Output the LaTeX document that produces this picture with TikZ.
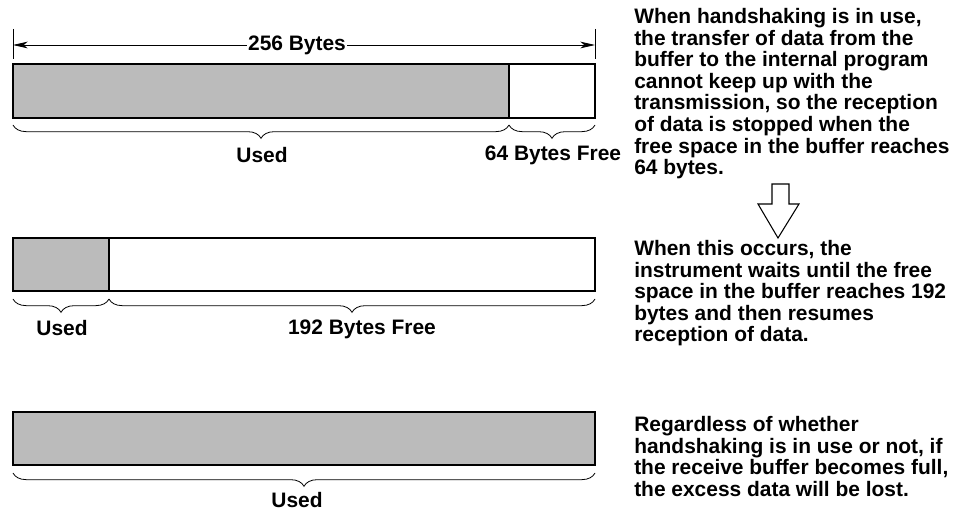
\documentclass[tikz,border=0pt]{standalone}
\usepackage{fontspec}
\setmainfont{Liberation Sans}
\usetikzlibrary{arrows.meta,decorations.pathreplacing,calc}
\definecolor{bargray}{HTML}{BBBBBB}
\begin{document}
\begin{tikzpicture}[x=0.75pt,y=-0.75pt,
  txt/.style={font=\fontsize{15.7}{16.2}\selectfont\bfseries},
  para/.style={txt,anchor=north west,align=left,inner sep=0pt},
  lab/.style={txt,inner sep=0pt},
  bar/.style={draw=black,line width=1.5pt},
  used/.style={bar,fill=bargray},
  brc/.style={draw=black,line width=0.6pt,decorate,decoration={brace,mirror,amplitude=10pt}},
  dim/.style={draw=black,line width=0.6pt},
  tip/.style={-{Stealth[length=11pt,width=5pt,inset=3pt]}}]
\useasboundingbox (0,0) rectangle (965,513);
% ---- bar 1
\path[used] (13,64) rectangle (509,118);
\path[bar,fill=white] (509,64) rectangle (595,118);
\coordinate (dl) at (13,45);
\coordinate (dr) at (595,45);
\draw[dim] (13,29) -- (13,59);
\draw[dim] (595,29) -- (595,59);
\node[txt,fill=white,inner sep=1pt] (dimlab) at (297,45) {256 Bytes};
\draw[dim,tip] (dimlab.west) -- (dl);
\draw[dim,tip] (dimlab.east) -- (dr);
\draw[brc] (13,125) -- (509,125);
\draw[brc] (509,125) -- (595,125);
\node[lab] (u1) at (262,155) {Used};
\node[lab] (f1) at (553,155) {64 Bytes Free};
% ---- bar 2
\path[used] (13,238) rectangle (109,291);
\path[bar,fill=white] (109,238) rectangle (595,291);
\draw[brc] (13,299) -- (109,299);
\draw[brc] (109,299) -- (595,299);
\node[lab] (u2) at (62,328) {Used};
\node[lab] (f2) at (362,329) {192 Bytes Free};
% ---- bar 3
\path[used] (13,412) rectangle (595,465);
\draw[brc] (13,473) -- (595,473);
\node[lab] (u3) at (297,500) {Used};
% ---- texts
\node[para] (t1) at (634,8) {When handshaking is in use,\\the transfer of data from the\\buffer to the internal program\\cannot keep up with the\\transmission, so the reception\\of data is stopped when the\\free space in the buffer reaches\\64 bytes.};
\node[para] (t2) at (634,240) {When this occurs, the\\instrument waits until the free\\space in the buffer reaches 192\\bytes and then resumes\\reception of data.};
\node[para] (t3) at (634,416) {Regardless of whether\\handshaking is in use or not, if\\the receive buffer becomes full,\\the excess data will be lost.};
% ---- hollow arrow
\draw[line width=0.8pt,fill=white,line join=miter]
  (772,184) -- (789,184) -- (789,204) -- (799,204) -- (778,238) -- (758,204) -- (772,204) -- cycle;
\end{tikzpicture}
\end{document}
